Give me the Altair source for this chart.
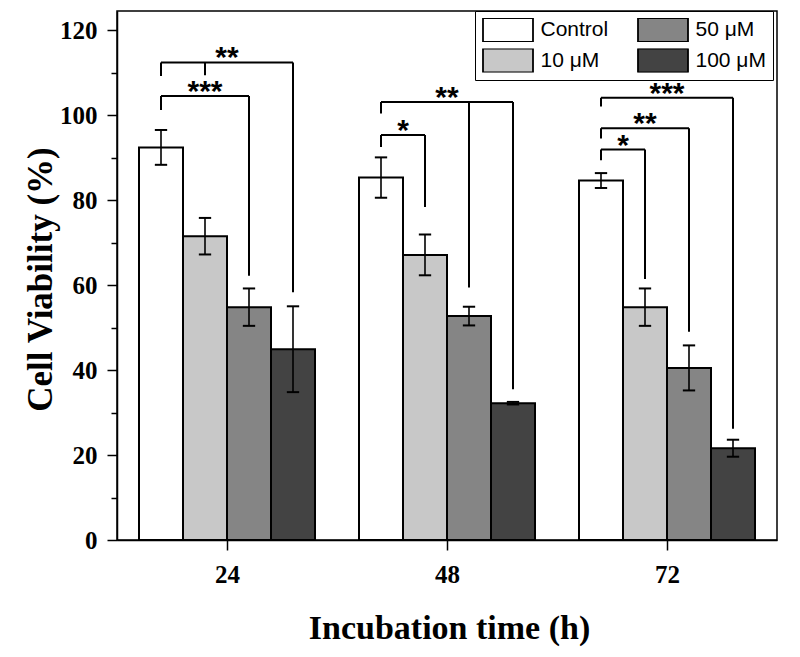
import altair as alt
import pandas as pd

# ---------------- data ----------------
times = ["24", "48", "72"]
doses = ["Control", "10 μM", "50 μM", "100 μM"]

control = [92.4, 85.3, 84.6]
dose10 = [71.5, 67.1, 54.8]
dose50 = [54.8, 52.7, 40.5]
dose100 = [44.9, 32.2, 21.6]

control_err = [4.1, 4.75, 1.75]
dose10_err = [4.3, 4.8, 4.4]
dose50_err = [4.4, 2.2, 5.3]
dose100_err = [10.1, 0.3, 2.0]

# significance brackets (all start from the Control bar of a time point)
bracket_time = ["24", "24", "48", "48", "72", "72", "72"]
bracket_to = ["100 μM", "50 μM", "100 μM", "10 μM", "100 μM", "50 μM", "10 μM"]
bracket_level = [112.4, 104.5, 103.1, 95.3, 104.1, 96.9, 91.9]
bracket_label = ["**", "***", "**", "*", "***", "**", "*"]

# vertical legs hanging from the brackets
leg_bracket = [0, 0, 0, 1, 1, 2, 2, 2, 3, 3, 4, 4, 5, 5, 6, 6]
leg_dose = ["Control", "10 μM", "100 μM", "Control", "50 μM",
            "Control", "50 μM", "100 μM", "Control", "10 μM",
            "Control", "100 μM", "Control", "50 μM", "Control", "10 μM"]
leg_bottom = [109.2, 109.4, 58.3, 101.2, 62.2,
              100.4, 59.4, 35.5, 92.5, 78.4,
              102.0, 26.2, 94.5, 49.0, 89.4, 61.4]

fill_colors = {"Control": "#ffffff", "10 μM": "#c8c8c8",
               "50 μM": "#858585", "100 μM": "#434343"}

# ---------------- layout helpers ----------------
BAR_W = 0.2
CAP = 0.028


def xpos(t, d):
    return times.index(t) + 1 + (doses.index(d) - 1.5) * BAR_W


values = [control, dose10, dose50, dose100]
errs = [control_err, dose10_err, dose50_err, dose100_err]
rows = []
for di, d in enumerate(doses):
    for ti, t in enumerate(times):
        xc = xpos(t, d)
        v = values[di][ti]
        e = errs[di][ti]
        rows.append(dict(time=t, dose=d, value=v, base=0.0, err=e, xc=xc,
                         x0=xc - BAR_W / 2, x1=xc + BAR_W / 2,
                         lo=v - e, hi=v + e, c0=xc - CAP, c1=xc + CAP))
bars_df = pd.DataFrame(rows)

caps_df = pd.concat([
    bars_df.assign(cy=bars_df["lo"]),
    bars_df.assign(cy=bars_df["hi"]),
])

br_rows = []
for i in range(len(bracket_time)):
    xa = xpos(bracket_time[i], "Control")
    xb = xpos(bracket_time[i], bracket_to[i])
    br_rows.append(dict(xa=xa, xb=xb, xm=(xa + xb) / 2,
                        level=bracket_level[i], label=bracket_label[i]))
br_df = pd.DataFrame(br_rows)

leg_rows = []
for b, d, bot in zip(leg_bracket, leg_dose, leg_bottom):
    leg_rows.append(dict(x=xpos(bracket_time[b], d),
                         top=bracket_level[b], bottom=bot))
leg_df = pd.DataFrame(leg_rows)

# ---------------- scales / axes ----------------
xscale = alt.Scale(domain=[0.5, 3.5], nice=False, zero=False)
yscale = alt.Scale(domain=[0, 124.5], nice=False, zero=True)

label_expr = " : ".join(
    [f"datum.value == {i + 1} ? '{t}'" for i, t in enumerate(times[:-1])]
) + f" : '{times[-1]}'"

serif = "Liberation Serif"

x_axis = alt.Axis(
    values=[1, 2, 3], labelExpr=label_expr, title="Incubation time (h)",
    grid=False, tickSize=10, tickWidth=1.5, tickColor="black",
    domainColor="black", domainWidth=1.5,
    labelFont=serif, labelFontWeight="bold", labelFontSize=25,
    labelColor="black", labelPadding=12, labelAngle=0,
    titleFont=serif, titleFontWeight="bold", titleFontSize=34,
    titleColor="black", titleX=332, titleY=98, titleBaseline="alphabetic",
    titleAlign="center",
)

y_axis = alt.Axis(
    values=list(range(0, 121, 10)),
    labelExpr="datum.value % 20 == 0 ? datum.label : ''",
    title="Cell Viability (%)", grid=False,
    tickSize={"condition": {"test": "datum.value % 20 == 0", "value": 10},
              "value": 6},
    tickWidth=1.5, tickColor="black",
    domainColor="black", domainWidth=1.5,
    labelFont=serif, labelFontWeight="bold", labelFontSize=25,
    labelColor="black", labelPadding=10, labelOverlap=False,
    titleFont=serif, titleFontWeight="bold", titleFontSize=35,
    titleColor="black", titleAngle=-90, titleX=-77, titleY=268,
    titleBaseline="middle", titleAlign="center",
)

bars = alt.Chart(bars_df).mark_rect(stroke="black", strokeWidth=2).encode(
    x=alt.X("x0:Q", scale=xscale, axis=x_axis),
    x2="x1:Q",
    y=alt.Y("value:Q", scale=yscale, axis=y_axis),
    y2="base:Q",
    color=alt.Color(
        "dose:N",
        scale=alt.Scale(domain=doses,
                        range=[fill_colors[d] for d in doses]),
        legend=alt.Legend(
            title=None, orient="none", legendX=358, legendY=0, columns=2,
            direction="vertical", clipHeight=24,
            symbolType="M-2.5,-1.2H2.5V1.2H-2.5Z", symbolSize=400,
            symbolOffset=15, labelOffset=21.5,
            symbolStrokeColor="black", symbolStrokeWidth=1.8,
            labelFont="Liberation Sans", labelFontSize=21,
            labelColor="black", fillColor="white", strokeColor="black",
            padding=7, columnPadding=28, rowPadding=6.5,
        ),
    ),
)

err_rule = alt.Chart(bars_df).mark_rule(color="black", strokeWidth=1.6).encode(
    x=alt.X("xc:Q", scale=xscale),
    y=alt.Y("lo:Q", scale=yscale),
    y2="hi:Q",
)

err_caps = alt.Chart(caps_df).mark_rule(color="black", strokeWidth=2).encode(
    x=alt.X("c0:Q", scale=xscale),
    x2="c1:Q",
    y=alt.Y("cy:Q", scale=yscale),
)

br_h = alt.Chart(br_df).mark_rule(color="black", strokeWidth=2).encode(
    x=alt.X("xa:Q", scale=xscale),
    x2="xb:Q",
    y=alt.Y("level:Q", scale=yscale),
)

br_v = alt.Chart(leg_df).mark_rule(color="black", strokeWidth=2).encode(
    x=alt.X("x:Q", scale=xscale),
    y=alt.Y("top:Q", scale=yscale),
    y2="bottom:Q",
)

stars = alt.Chart(br_df).mark_text(
    font="Liberation Sans", fontWeight="bold", fontSize=30,
    baseline="alphabetic", align="center", dy=5, color="black",
).encode(
    x=alt.X("xm:Q", scale=xscale),
    y=alt.Y("level:Q", scale=yscale),
    text="label:N",
)

chart = alt.layer(bars, err_rule, err_caps, br_h, br_v, stars).properties(
    width=660, height=529,
    autosize=alt.AutoSizeParams(type="none"),
    padding={"left": 109, "top": 3, "right": 15, "bottom": 110},
    background="white",
).configure_view(stroke="black", strokeWidth=1.5)

chart.save("out.html", embed_options={"renderer": "svg", "actions": False})
